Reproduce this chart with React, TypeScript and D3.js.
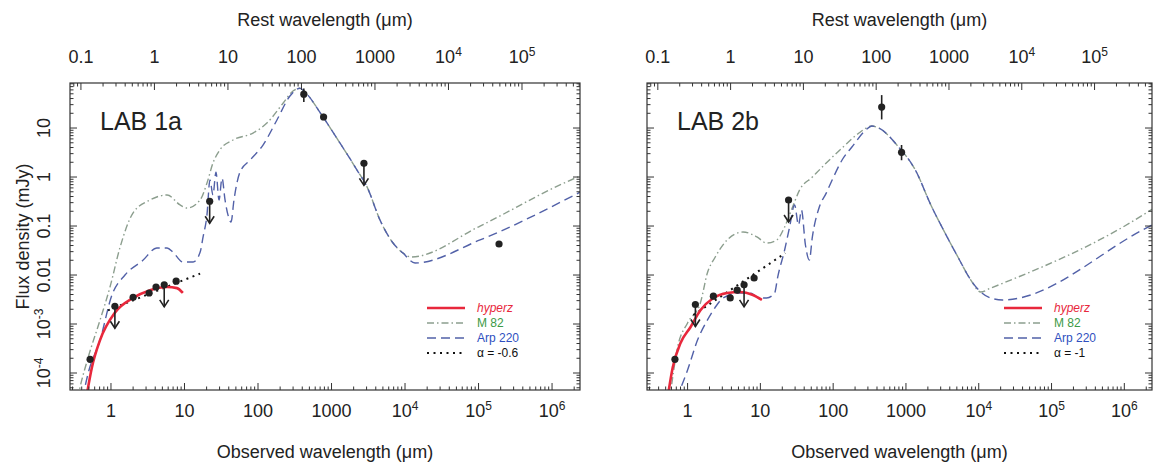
import React from "react";
import * as d3 from "d3";

type Pt = [number, number];

// axes
const X_DOMAIN: [number, number] = [0.277, 2.4e6];
const Y_DOMAIN: [number, number] = [4.5e-5, 83];
const ONE_PLUS_Z = 3.9;

const bottomTicks = [1, 10, 100, 1000, 1e4, 1e5, 1e6];
const bottomTickLabels = [["1"], ["10"], ["100"], ["1000"], ["10", "4"], ["10", "5"], ["10", "6"]];
const topTicks = [0.1, 1, 10, 100, 1000, 1e4, 1e5];
const topTickLabels = [["0.1"], ["1"], ["10"], ["100"], ["1000"], ["10", "4"], ["10", "5"]];
const yTicks = [1e-4, 1e-3, 0.01, 0.1, 1, 10];
const yTickLabels = [["10", "-4"], ["10", "-3"], ["0.01"], ["0.1"], ["1"], ["10"]];

// LAB 1a
const lab1Hyperz: Pt[] = [[0.45, 2.5e-5], [0.55, 1.3e-4], [0.71, 4.7e-4], [1.13, 1.7e-3], [2.0, 3.4e-3], [3.4, 4.9e-3], [5.8, 5.7e-3], [7.9, 5.4e-3], [9.5, 4.3e-3]];
const lab1M82: Pt[] = [[0.35, 3e-5], [0.38, 5.2e-5], [0.49, 2.1e-4], [0.71, 1.2e-3], [0.97, 5.7e-3], [1.33, 0.037], [1.99, 0.184], [3.4, 0.34], [5.8, 0.43], [8.7, 0.27], [10.8, 0.233], [16.3, 0.34], [20.2, 0.75], [24.4, 1.93], [30.4, 3.6], [45.7, 5.7], [85.5, 7.9], [132, 12.6], [219, 32], [299, 57], [373, 65], [436, 54], [766, 16.8], [1306, 4.9], [2223, 1.39], [3041, 0.63], [4571, 0.132], [6871, 0.045], [9397, 0.028], [12070, 0.0233], [1.05e5, 0.1], [1.28e6, 0.69], [2.4e6, 1.05]];
const lab1Arp: Pt[] = [[0.41, 3e-5], [0.49, 1e-4], [0.71, 4.7e-4], [1.03, 3.9e-3], [1.55, 0.01], [2.72, 0.02], [4.2, 0.0356], [5.8, 0.0356], [7.0, 0.029], [9.5, 0.0184], [13.1, 0.0184], [16.3, 0.029], [17.9, 0.06], [20.2, 0.167], [22.2, 0.87], [24.4, 0.43], [26.8, 1.26], [29.5, 0.34], [32.4, 0.95], [35.6, 0.34], [39.1, 0.167], [43, 0.121], [47.1, 0.34], [56.9, 1.26], [77.8, 2.2], [117, 4.5], [181, 14.6], [272, 45], [373, 65], [436, 54], [766, 16.8], [1306, 4.9], [2223, 1.39], [3041, 0.63], [4571, 0.132], [6871, 0.045], [9397, 0.028], [13680, 0.0176], [1.05e5, 0.052], [2.4e6, 0.49]];
const lab1Dotted: Pt[] = [[0.91, 1.9e-3], [16.3, 0.0107]];
const lab1Det: Pt[] = [[0.52, 1.9e-4], [2.0, 3.5e-3], [3.3, 4.3e-3], [4.1, 5.7e-3], [7.7, 7.5e-3], [420, 49], [780, 16.8], [1.9e5, 0.043]];
const lab1Err: [number, number, number][] = [[420, 34, 64], [780, 14.5, 19.5]];
const lab1Lim: Pt[] = [[1.13, 2.3e-3], [5.3, 6.3e-3], [22, 0.32], [2760, 1.9]];

// LAB 2b
const lab2Hyperz: Pt[] = [[0.52, 2.5e-5], [0.625, 1.3e-4], [0.8, 4.1e-4], [1.1, 8.7e-4], [1.5, 1.9e-3], [2.26, 3.4e-3], [3.5, 4.3e-3], [5.26, 4.5e-3], [7.9, 3.9e-3], [10.5, 3.1e-3]];
const lab2M82: Pt[] = [[0.57, 3e-5], [0.73, 3.4e-4], [1.0, 1.05e-3], [1.5, 2.7e-3], [1.87, 0.011], [2.4, 0.0233], [3.5, 0.052], [5.78, 0.0755], [8.96, 0.06], [12.2, 0.045], [16.8, 0.052], [21.5, 0.095], [27.7, 0.244], [34.5, 0.54], [51.8, 1.0], [80.3, 1.93], [132, 3.9], [226, 7.9], [340, 11.0], [423, 10.0], [791, 4.1], [1346, 1.39], [2223, 0.26], [3443, 0.072], [5176, 0.0233], [7780, 0.0079], [10640, 0.0045], [14550, 0.0054], [1.99e6, 0.184], [2.4e6, 0.22]];
const lab2Arp: Pt[] = [[0.7, 3e-5], [1.0, 1.15e-4], [1.37, 4.7e-4], [1.87, 1.2e-3], [2.4, 2.2e-3], [3.09, 3.4e-3], [5.26, 4.3e-3], [7.2, 4.3e-3], [9.8, 3.4e-3], [12.2, 3.4e-3], [15.7, 4.3e-3], [17.3, 9.1e-3], [21.5, 0.032], [25.2, 0.095], [29.5, 0.27], [33.4, 0.105], [36.7, 0.21], [41.6, 0.041], [47.1, 0.0202], [51.8, 0.06], [64.5, 0.244], [80.3, 0.47], [96.9, 0.87], [132, 2.2], [181, 4.1], [281, 9.1], [340, 11.0], [423, 10.0], [791, 4.1], [1346, 1.39], [2223, 0.26], [3443, 0.072], [5176, 0.0233], [7780, 0.0079], [10640, 0.0045], [14550, 0.0034], [21200, 0.0031], [1.99e6, 0.091], [2.4e6, 0.105]];
const lab2Dotted: Pt[] = [[1.2, 1.53e-3], [22, 0.028]];
const lab2Det: Pt[] = [[0.67, 1.9e-4], [2.26, 3.7e-3], [3.85, 3.4e-3], [4.8, 4.9e-3], [8.2, 8.7e-3], [464, 26.8], [870, 3.2]];
const lab2Err: [number, number, number][] = [[464, 15, 47], [870, 2.2, 4.5]];
const lab2Lim: Pt[] = [[1.28, 2.5e-3], [5.97, 6.3e-3], [24.4, 0.34]];

const legendNames = ["hyperz", "M 82", "Arp 220"];

const FONT = "'Liberation Sans', Arial, Helvetica, sans-serif";
const TXT = "#222";
const RED = "#e8283c";
const M82C = "#8c9e8e";
const ARPC = "#5261a8";

function logTicks(lo: number, hi: number) {
  const out: { v: number; major: boolean }[] = [];
  for (let e = Math.floor(Math.log10(lo)) - 1; e <= Math.ceil(Math.log10(hi)); e++) {
    for (let m = 1; m <= 9; m++) {
      const v = m * Math.pow(10, e);
      if (v >= lo * 1.0001 && v <= hi / 1.0001) out.push({ v, major: m === 1 });
    }
  }
  return out;
}

function Label({ parts, sup = 12 }: { parts: string[]; sup?: number }) {
  return (
    <>
      <tspan>{parts[0]}</tspan>
      {parts[1] && (
        <tspan dy={-7} fontSize={sup}>
          {parts[1]}
        </tspan>
      )}
    </>
  );
}

type PanelProps = {
  id: string;
  x0: number;
  w: number;
  label: string;
  hyperz: Pt[];
  m82: Pt[];
  arp: Pt[];
  dotted: Pt[];
  det: Pt[];
  err: [number, number, number][];
  lim: Pt[];
  alphaText: string;
  showY: boolean;
};

function Panel(p: PanelProps) {
  const top = 83;
  const bottom = 390;
  const x = d3.scaleLog().domain(X_DOMAIN).range([p.x0, p.x0 + p.w]);
  const y = d3.scaleLog().domain(Y_DOMAIN).range([bottom, top]);
  const line = d3
    .line<Pt>()
    .x((d) => x(d[0]))
    .y((d) => y(d[1]))
    .curve(d3.curveMonotoneX);
  const lineStraight = d3
    .line<Pt>()
    .x((d) => x(d[0]))
    .y((d) => y(d[1]));

  const bt = logTicks(X_DOMAIN[0], X_DOMAIN[1]);
  const tt = logTicks(X_DOMAIN[0] / ONE_PLUS_Z, X_DOMAIN[1] / ONE_PLUS_Z);
  const yt = logTicks(Y_DOMAIN[0], Y_DOMAIN[1]);
  const cx = p.x0 + p.w / 2;
  const legX = p.x0 + 357;
  const legY = [308, 323, 338, 353];

  return (
    <g>
      <defs>
        <clipPath id={p.id}>
          <rect x={p.x0} y={top} width={p.w} height={bottom - top} />
        </clipPath>
      </defs>
      {/* curves */}
      <g clipPath={`url(#${p.id})`} fill="none">
        <path d={line(p.m82) || ""} stroke={M82C} strokeWidth={1.4} strokeDasharray="7,3,1.5,3" />
        <path d={line(p.arp) || ""} stroke={ARPC} strokeWidth={1.4} strokeDasharray="9,5" />
        <path d={lineStraight(p.dotted) || ""} stroke="#111" strokeWidth={2} strokeDasharray="2,4.5" />
        <path d={line(p.hyperz) || ""} stroke={RED} strokeWidth={2.6} />
      </g>
      {/* error bars */}
      {p.err.map((d, i) => (
        <line key={"e" + i} x1={x(d[0])} x2={x(d[0])} y1={y(d[1])} y2={y(d[2])} stroke="#222" strokeWidth={1.6} />
      ))}
      {/* upper limits */}
      {p.lim.map((d, i) => {
        const px = x(d[0]);
        const py = y(d[1]);
        return (
          <g key={"l" + i} stroke="#222" strokeWidth={1.6} fill="none">
            <line x1={px} x2={px} y1={py} y2={py + 22} />
            <path d={`M${px - 4.5},${py + 15} L${px},${py + 22} L${px + 4.5},${py + 15}`} />
            <circle cx={px} cy={py} r={3.6} fill="#222" stroke="none" />
          </g>
        );
      })}
      {p.det.map((d, i) => (
        <circle key={"d" + i} cx={x(d[0])} cy={y(d[1])} r={3.6} fill="#222" />
      ))}
      {/* frame */}
      <rect x={p.x0} y={top} width={p.w} height={bottom - top} fill="none" stroke="#333" strokeWidth={1.2} />
      {/* ticks */}
      <g stroke="#333" strokeWidth={1}>
        {bt.map((t, i) => (
          <line key={"bt" + i} x1={x(t.v)} x2={x(t.v)} y1={bottom} y2={bottom - (t.major ? 7 : 3.5)} />
        ))}
        {tt.map((t, i) => (
          <line key={"tt" + i} x1={x(t.v * ONE_PLUS_Z)} x2={x(t.v * ONE_PLUS_Z)} y1={top} y2={top + (t.major ? 7 : 3.5)} />
        ))}
        {yt.map((t, i) => (
          <g key={"yt" + i}>
            <line x1={p.x0} x2={p.x0 + (t.major ? 7 : 3.5)} y1={y(t.v)} y2={y(t.v)} />
            <line x1={p.x0 + p.w} x2={p.x0 + p.w - (t.major ? 7 : 3.5)} y1={y(t.v)} y2={y(t.v)} />
          </g>
        ))}
      </g>
      {/* tick labels */}
      <g fontFamily={FONT} fontSize={18} fill={TXT} textAnchor="middle">
        {bottomTicks.map((v, i) => (
          <text key={"bl" + i} x={x(v)} y={bottom + 27}>
            <Label parts={bottomTickLabels[i]} />
          </text>
        ))}
        {topTicks.map((v, i) => (
          <text key={"tl" + i} x={x(v * ONE_PLUS_Z)} y={top - 20}>
            <Label parts={topTickLabels[i]} />
          </text>
        ))}
        {p.showY &&
          yTicks.map((v, i) => (
            <text key={"yl" + i} transform={`translate(${p.x0 - 20},${y(v)}) rotate(-90)`}>
              <Label parts={yTickLabels[i]} />
            </text>
          ))}
        <text x={cx} y={26}>Rest wavelength (μm)</text>
        <text x={cx} y={458}>Observed wavelength (μm)</text>
        {p.showY && (
          <text transform={`translate(29,${(top + bottom) / 2}) rotate(-90)`}>Flux density (mJy)</text>
        )}
      </g>
      <text x={p.x0 + 30} y={130} fontFamily={FONT} fontSize={25} fill={TXT}>
        {p.label}
      </text>
      {/* legend */}
      <g fontFamily={FONT} fontSize={12}>
        <line x1={legX} x2={legX + 38} y1={legY[0]} y2={legY[0]} stroke={RED} strokeWidth={2.6} />
        <line x1={legX} x2={legX + 38} y1={legY[1]} y2={legY[1]} stroke={M82C} strokeWidth={1.4} strokeDasharray="7,3,1.5,3" />
        <line x1={legX} x2={legX + 38} y1={legY[2]} y2={legY[2]} stroke={ARPC} strokeWidth={1.4} strokeDasharray="9,5" />
        <line x1={legX} x2={legX + 38} y1={legY[3]} y2={legY[3]} stroke="#111" strokeWidth={2} strokeDasharray="2,4.5" />
        <text x={legX + 50} y={legY[0] + 4} fill={RED} fontStyle="italic">{legendNames[0]}</text>
        <text x={legX + 50} y={legY[1] + 4} fill="#3c9a46">{legendNames[1]}</text>
        <text x={legX + 50} y={legY[2] + 4} fill="#2f4fc0">{legendNames[2]}</text>
        <text x={legX + 50} y={legY[3] + 4} fill="#111">{p.alphaText}</text>
      </g>
    </g>
  );
}

export default function App() {
  return (
    <svg
      width={1160}
      height={470}
      style={{ position: "absolute", left: 0, top: 0, background: "#fff" }}
    >
      <Panel
        id="clip1"
        x0={70}
        w={510}
        label="LAB 1a"
        hyperz={lab1Hyperz}
        m82={lab1M82}
        arp={lab1Arp}
        dotted={lab1Dotted}
        det={lab1Det}
        err={lab1Err}
        lim={lab1Lim}
        alphaText="α = -0.6"
        showY={true}
      />
      <Panel
        id="clip2"
        x0={647}
        w={505}
        label="LAB 2b"
        hyperz={lab2Hyperz}
        m82={lab2M82}
        arp={lab2Arp}
        dotted={lab2Dotted}
        det={lab2Det}
        err={lab2Err}
        lim={lab2Lim}
        alphaText="α = -1"
        showY={false}
      />
    </svg>
  );
}
